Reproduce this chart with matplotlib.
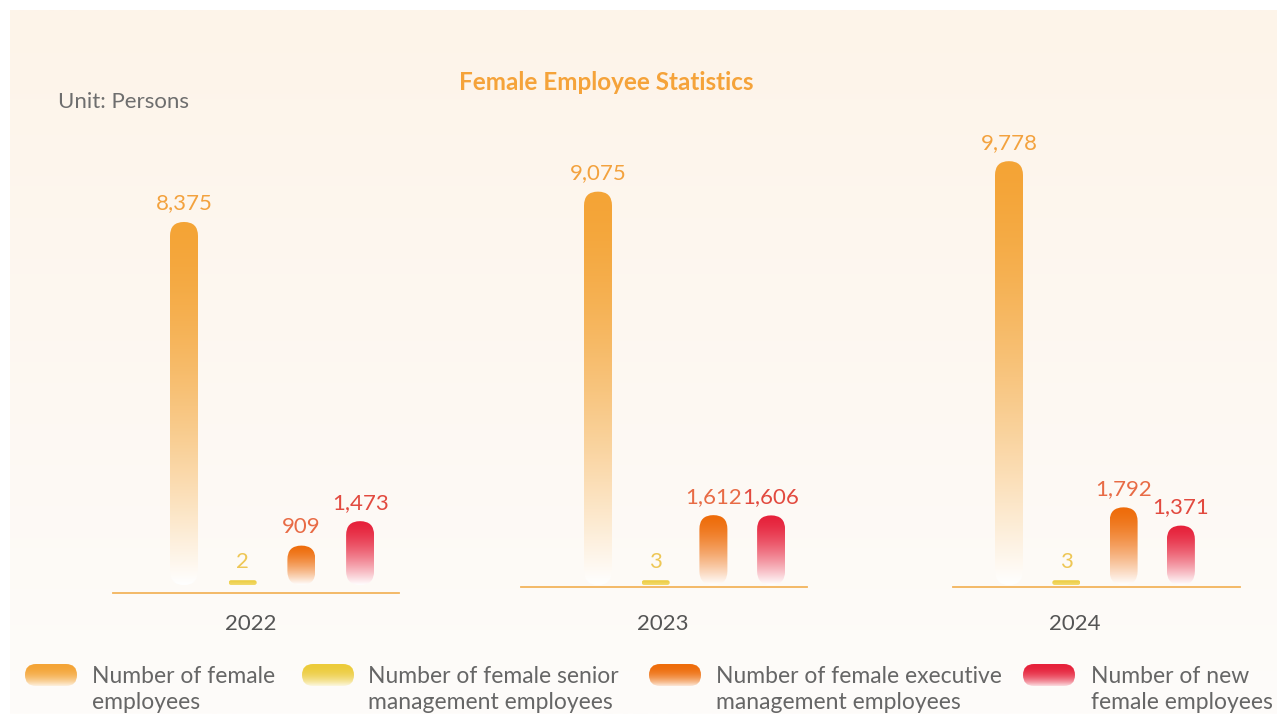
import numpy as np
import matplotlib.pyplot as plt
from matplotlib.colors import to_rgb
from matplotlib.patches import FancyBboxPatch
from matplotlib.transforms import IdentityTransform

plt.rcParams['font.family'] = ['Lato', 'DejaVu Sans']

# Data (persons)
years = ["2022", "2023", "2024"]
female_employees = [8375, 9075, 9778]
female_senior_mgmt = [2, 3, 3]
female_exec_mgmt = [909, 1612, 1792]
new_female_employees = [1473, 1606, 1371]

series_values = [female_employees, female_senior_mgmt, female_exec_mgmt, new_female_employees]
series_labels = [
    ("Number of female", "employees"),
    ("Number of female senior", "management employees"),
    ("Number of female executive", "management employees"),
    ("Number of new", "female employees"),
]
bar_colors = ["#F4A436", "#ECCB3A", "#EE6C0A", "#E6213A"]
label_colors = ["#F3A23E", "#EEC756", "#E86B45", "#E24A3F"]

W, H = 1277, 714
PPU = 23.07          # persons per pixel
Y_TOP = 10500
MIN_H = 110          # keep tiny values visible as a thin pill
ZERO_PX = 585        # pixel row of the bar bottoms
BAR_PX = 28

# left, right, first bar centre, bar step, baseline row, year label x
group_layout = [
    (113, 399, 184, 58.7, 593, 251),
    (521, 807, 598, 57.7, 587, 663),
    (953, 1240, 1009, 57.3, 587, 1075),
]

fig = plt.figure(figsize=(W / 100, H / 100), dpi=100)
fig.patch.set_facecolor("white")


def px_axes(left, top, right, bottom, z=1):
    ax = fig.add_axes([left / W, 1 - bottom / H, (right - left) / W, (bottom - top) / H])
    ax.set_zorder(z)
    return ax


def gradient_pill(ax, x0, x1, y_bot, y_top, top_color, bot_color, gamma=1.0):
    pts = ax.transData.transform([(x0, y_bot), (x1, y_top)])
    dx0, dx1 = sorted(pts[:, 0])
    dy0, dy1 = sorted(pts[:, 1])
    w, h = dx1 - dx0, dy1 - dy0
    r = min(w, h) / 2
    clip = FancyBboxPatch((dx0, dy0), w, h, boxstyle=f"round,pad=0,rounding_size={r}",
                          transform=IdentityTransform(), facecolor="none", edgecolor="none")
    ax.add_patch(clip)
    t = np.linspace(0, 1, 256)[:, None] ** gamma
    rgb = (1 - t) * np.array(to_rgb(top_color)) + t * np.array(to_rgb(bot_color))
    im = ax.imshow(rgb[:, None, :], extent=(x0, x1, y_bot, y_top), origin="upper",
                   aspect="auto", interpolation="bilinear", zorder=3)
    im.set_clip_path(clip)


# cream panel background
bg = px_axes(10, 10, W, H, z=0)
grad = np.linspace(0, 1, 256)[:, None]
bg_rgb = (1 - grad) * np.array(to_rgb("#FDF4E9")) + grad * np.array(to_rgb("#FEFCFA"))
bg.imshow(bg_rgb[:, None, :], aspect="auto", extent=(0, 1, 0, 1))
bg.axis("off")

for i, year in enumerate(years):
    left, right, c0, step, base_px, year_x = group_layout[i]
    ybot = -(base_px - ZERO_PX) * PPU
    ax = px_axes(left, ZERO_PX - Y_TOP / PPU, right, base_px, z=2)
    ax.set_xlim((left - c0) / step, (right - c0) / step)
    ax.set_ylim(ybot, Y_TOP)
    ax.patch.set_visible(False)
    for side in ["top", "left", "right"]:
        ax.spines[side].set_visible(False)
    ax.spines["bottom"].set_color("#F3B45C")
    ax.spines["bottom"].set_linewidth(1.3)
    ax.set_xticks([])
    ax.set_yticks([])

    bw = BAR_PX / step
    for j, vals in enumerate(series_values):
        v = vals[i]
        h = max(v, MIN_H)
        if j == 1:
            gradient_pill(ax, j - bw / 2, j + bw / 2, 0, h, bar_colors[j], "#F2DA6E", 1.0)
        else:
            gradient_pill(ax, j - bw / 2, j + bw / 2, 0, h, bar_colors[j], "#FFFFFF", 1.5)
        ax.annotate(f"{v:,}", (j, h), xytext=(0, 9), textcoords="offset points",
                    ha="center", va="baseline", fontsize=16, color=label_colors[j], zorder=5)

    fig.text(year_x / W, 1 - 630 / H, year, ha="center", va="baseline",
             fontsize=16, color="#555555")

fig.text(606 / W, 1 - 90 / H, "Female Employee Statistics", ha="center", va="baseline",
         fontsize=17.5, fontweight="bold", color="#F5A33A")
fig.text(58 / W, 1 - 108 / H, "Unit: Persons", ha="left", va="baseline",
         fontsize=16, color="#6E6E6E")

# legend
leg = px_axes(0, 0, W, H, z=3)
leg.set_xlim(0, W)
leg.set_ylim(H, 0)
leg.axis("off")
marker_x = [25, 302, 649, 1023]
text_x = [92, 368, 716, 1091]
for j, (line1, line2) in enumerate(series_labels):
    light = 0.15 * np.array(to_rgb(bar_colors[j])) + 0.85
    gradient_pill(leg, marker_x[j], marker_x[j] + 52, 686, 664, bar_colors[j], light, 2.2)
    fig.text(text_x[j] / W, 1 - 683 / H, line1, ha="left", va="baseline",
             fontsize=16.5, color="#666666")
    fig.text(text_x[j] / W, 1 - 709 / H, line2, ha="left", va="baseline",
             fontsize=16.5, color="#666666")

fig.savefig("out.png", dpi=100)
